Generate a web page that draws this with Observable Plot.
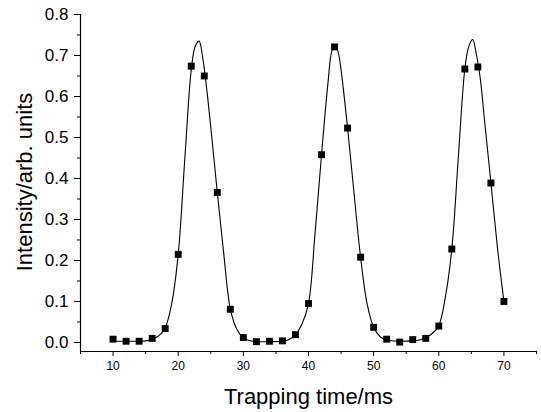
<!DOCTYPE html>
<html>
<head>
<meta charset="utf-8">
<script src="https://cdn.jsdelivr.net/npm/d3@7"></script>
<script src="https://cdn.jsdelivr.net/npm/@observablehq/plot@0.6"></script>
<style>
  html, body { margin: 0; padding: 0; background: #fff; }
</style>
</head>
<body>
<div id="chart"></div>
<script>
// Measured data points (squares)
const times = [10,12,14,16,18,20,22,24,26,28,30,32,34,36,38,40,42,44,46,48,50,52,54,56,58,60,62,64,66,68,70];
const intensity = [0.008,0.003,0.003,0.010,0.034,0.215,0.674,0.650,0.366,0.081,0.012,0.002,0.003,0.004,0.019,0.095,0.458,0.721,0.523,0.208,0.037,0.008,0.001,0.007,0.010,0.040,0.228,0.667,0.672,0.389,0.100];

// Fitted curve
const fitTime = [10,12,14,15,16,17,18,19,20,21,22,22.6,23.2,23.8,24.4,25,26,27,28,29,30,31,32,34,36,37,38,39,40,41,42,43,43.6,44.1,44.6,45,46,47,48,49,50,51,52,54,56,57,58,59,60,61,62,63,64,64.6,65.2,65.8,66.4,67,68,69,70];
const fitValue = [0.003,0.003,0.003,0.004,0.008,0.016,0.036,0.095,0.215,0.445,0.665,0.722,0.735,0.690,0.615,0.525,0.366,0.215,0.082,0.032,0.011,0.004,0.002,0.002,0.003,0.007,0.019,0.045,0.095,0.265,0.458,0.635,0.712,0.725,0.705,0.665,0.523,0.362,0.208,0.094,0.037,0.014,0.006,0.003,0.004,0.006,0.012,0.022,0.041,0.110,0.228,0.452,0.667,0.722,0.739,0.700,0.640,0.545,0.390,0.232,0.100];

// Axis ticks and labels
const xTicks = [10,20,30,40,50,60,70];
const xMinorTicks = [5,15,25,35,45,55,65,75];
const yTicks = [0.0,0.1,0.2,0.3,0.4,0.5,0.6,0.7,0.8];
const yMinorTicks = [0.05,0.15,0.25,0.35,0.45,0.55,0.65,0.75];
const xDomain = [5, 75];
const yDomain = [-0.022, 0.8];
const xTitle = "Trapping time/ms";
const yTitle = "Intensity/arb. units";

const points = times.map((t, i) => ({t, v: intensity[i]}));
const fit = fitTime.map((t, i) => ({t, v: fitValue[i]}));

const chart = Plot.plot({
  width: 541,
  height: 412,
  marginLeft: 80,
  marginRight: 5,
  marginTop: 14,
  marginBottom: 61,
  style: {fontFamily: "'Liberation Sans', Arial, sans-serif", color: "black", background: "white"},
  x: {domain: xDomain, axis: null},
  y: {domain: yDomain, axis: null},
  marks: [
    Plot.ruleX([xDomain[0]], {y1: yDomain[0], y2: yDomain[1], stroke: "black", strokeWidth: 1.2}),
    Plot.ruleY([yDomain[0]], {x1: xDomain[0], x2: xDomain[1], stroke: "black", strokeWidth: 1.2}),
    Plot.axisX({ticks: xTicks, tickSize: 5, tickPadding: 5, fontSize: 12, tickFormat: d => String(d), label: null}),
    Plot.axisX({ticks: xMinorTicks, tickSize: 3, tickFormat: () => "", label: null}),
    Plot.axisY({ticks: yTicks, tickSize: 6, tickPadding: 6, fontSize: 17, tickFormat: d3.format(".1f"), label: null}),
    Plot.axisY({ticks: yMinorTicks, tickSize: 3, tickFormat: () => "", label: null}),
    Plot.line(fit, {x: "t", y: "v", curve: "catmull-rom", stroke: "black", strokeWidth: 1.1}),
    Plot.dot(points, {x: "t", y: "v", symbol: "square", r: 3.9, fill: "black", stroke: "none"}),
    Plot.text([xTitle], {frameAnchor: "bottom", text: d => d, dy: 45, fontSize: 22, lineAnchor: "middle", textAnchor: "middle"}),
    Plot.text([yTitle], {frameAnchor: "left", text: d => d, dx: -56, dy: -1, rotate: -90, fontSize: 22, lineAnchor: "middle", textAnchor: "middle"})
  ]
});
document.getElementById("chart").appendChild(chart);
</script>
</body>
</html>
